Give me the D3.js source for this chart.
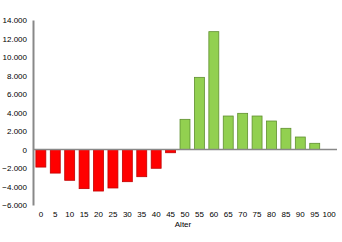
<!DOCTYPE html>
<html>
<head>
<meta charset="utf-8">
<script src="https://cdn.jsdelivr.net/npm/d3@7"></script>
<style>
  body { margin: 0; background: #fff; }
  text { font-family: "Liberation Sans", Arial, sans-serif; }
</style>
</head>
<body>
<svg id="chart" width="342" height="242"></svg>
<script>
const ages = [0, 5, 10, 15, 20, 25, 30, 35, 40, 45, 50, 55, 60, 65, 70, 75, 80, 85, 90, 95, 100];
const values = [-1900, -2550, -3330, -4230, -4490, -4160, -3480, -2940, -2030, -350,
                3260, 7800, 12740, 3620, 3910, 3620, 3080, 2290, 1350, 670, 0];
const yTicks = [-6000, -4000, -2000, 0, 2000, 4000, 6000, 8000, 10000, 12000, 14000];

const svg = d3.select("#chart");
const plotLeft = 33, plotRight = 337, plotTop = 20, plotBottom = 205;

const x = d3.scaleBand()
    .domain(ages)
    .range([plotLeft, plotRight])
    .paddingInner(0.31)
    .paddingOuter(0.2);

const y = d3.scaleLinear()
    .domain([-6000, 14000])
    .range([plotBottom, plotTop]);

const fmt = d3.formatLocale({ decimal: ",", thousands: ".", grouping: [3], currency: ["", "€"] }).format(",");

// bars
svg.append("g")
    .selectAll("rect")
    .data(ages.map((a, i) => ({ age: a, v: values[i] })).filter(d => d.v !== 0))
    .join("rect")
    .attr("x", d => x(d.age))
    .attr("width", x.bandwidth())
    .attr("y", d => y(Math.max(0, d.v)))
    .attr("height", d => Math.abs(y(d.v) - y(0)))
    .attr("fill", d => d.v < 0 ? "#ff0000" : "#92d050")
    .attr("stroke", d => d.v < 0 ? "#c00000" : "#5f8f2f")
    .attr("stroke-width", 0.8);

// y axis
const yAxis = svg.append("g")
    .attr("transform", `translate(${plotLeft},0)`)
    .call(d3.axisLeft(y).tickValues(yTicks).tickFormat(fmt).tickSize(0).tickPadding(6));
yAxis.select(".domain").attr("stroke", "#888").attr("stroke-width", 2);
yAxis.selectAll("text").attr("font-size", 8).attr("fill", "#000");

// zero line
svg.append("line")
    .attr("x1", plotLeft).attr("x2", plotRight)
    .attr("y1", y(0)).attr("y2", y(0))
    .attr("stroke", "#888").attr("stroke-width", 1.5);

// x labels
const xAxis = svg.append("g")
    .attr("transform", `translate(0,${plotBottom})`)
    .call(d3.axisBottom(x).tickSize(0).tickPadding(6));
xAxis.select(".domain").remove();
xAxis.selectAll("text").attr("font-size", 8).attr("fill", "#000");

svg.append("text")
    .attr("x", 183).attr("y", 227)
    .attr("text-anchor", "middle")
    .attr("font-size", 8)
    .text("Alter");
</script>
</body>
</html>
